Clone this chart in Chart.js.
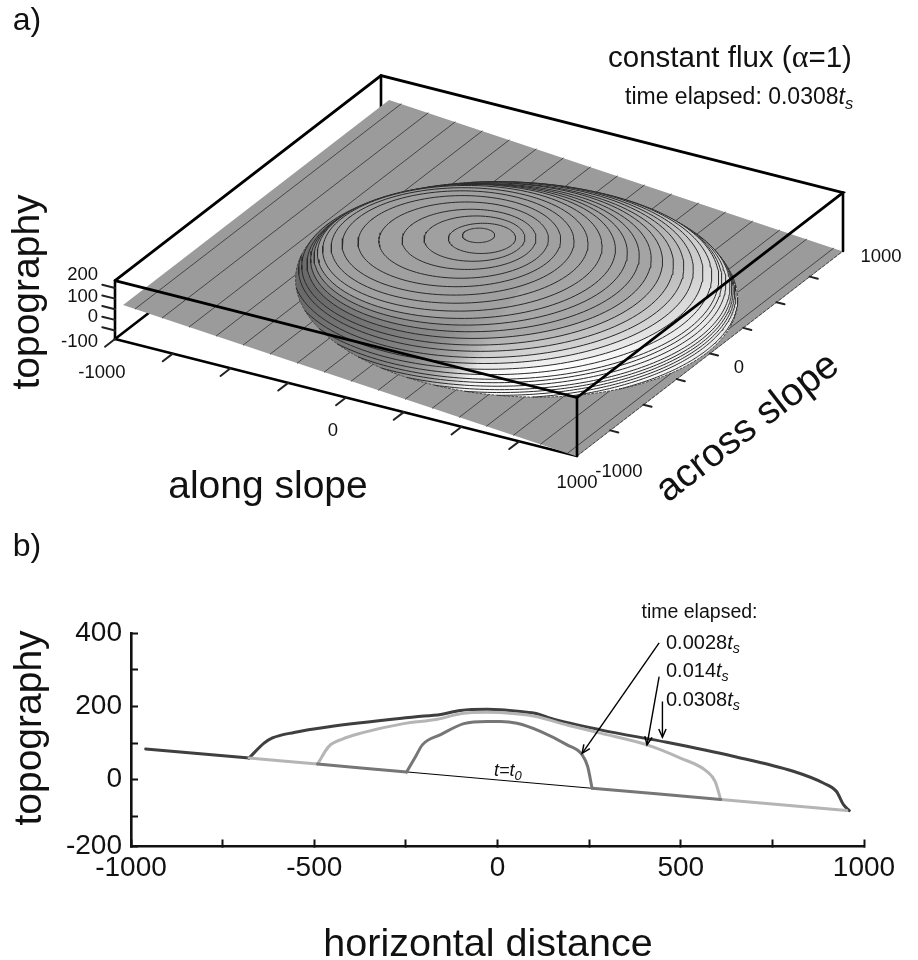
<!DOCTYPE html>
<html><head><meta charset="utf-8">
<script src="https://cdn.jsdelivr.net/npm/chart.js@4/dist/chart.umd.min.js"></script>
<style>
html,body{margin:0;padding:0;background:#fff;width:918px;height:960px;overflow:hidden}
canvas{position:absolute;left:0}
#c3d{top:0}#c2d{top:520px}
</style></head><body>
<canvas id="c3d" width="918" height="520"></canvas>
<canvas id="c2d" width="918" height="440"></canvas>
<script>
// ---------- data: panel a (3-D surface view) ----------
const alongTicks  = [-1000,-750,-500,-250,0,250,500,750];
const acrossTicks = [-750,-500,-250,0,250,500,750];
const heightTicks = [150,100,50,0,-50];
const alongRange  = [-1000,1000];
const acrossRange = [-1000,1000];
const heightRange = [-90,185];
const groundAlong  = [-965,1000];
const groundHeight = [80,-92];
const groundContours = [-913,-796,-679,-562,-445,-328,-211,-94,23,140,257,374,491,608,725,842,959];
const footprintAlong = [-660,986];
const footprintAcrossRadius = 849;
const contourLevel = [190,180,170,160,150,140,130,120,110,100,90,80,70,60,50,40,30,20,10,0,-10,-20,-30,-40,-50,-60,-70,-80];
const contourLeft  = [-62,-112,-207,-292,-382,-462,-522,-562,-592,-609,-619,-629,-640,-658,null,null,null,null,null,null,null,null,null,null,null,null,null,null];
const contourRight = [58,138,168,206,249,292,341,394,448,500,547,594,641,685,728,768,805,843,878,906,918,934,951,958,963,968,973,984];

// ---------- data: panel b (sections) ----------
const baseX = [-960,958];
const baseY = [84,-85];
const lateGroundX = [-960,-678];
const lateGroundY = [84,59];
const lateX = [-678,-637,-614,-555,-464,-228,-155,-101,-28,8,63,108,144,281,462,643,807,889,925,944,960];
const lateY = [59,100,114,129,144,171,178,189,192,191,186,180,168,136,102,64,23,-9,-32,-68,-84];
const midGroundLeftX = [-678,-491];
const midGroundLeftY = [59,43];
const midX  = [-491,-460,-423,-373,-256,-164,-101,-28,8,98,190,281,408,499,571,594,609];
const midY  = [43,91,111,127,153,165,180,184,183,174,149,127,95,59,23,-5,-54];
const midGroundRightX = [609,953];
const midGroundRightY = [-54,-84];
const earlyGroundLeftX = [-491,-248];
const earlyGroundLeftY = [43,21];
const earlyX = [-248,-223,-205,-155,-92,-28,8,53,117,190,231,246,258];
const earlyY = [21,64,95,123,153,159,159,154,132,95,68,36,-23];
const earlyGroundRightX = [258,609];
const earlyGroundRightY = [-23,-54];
const arrowFromX = [441,441,450];
const arrowFromY = [373,281,213];
const arrowToX   = [231,408,450];
const arrowToY   = [72,95,116];
const xTickValues = [-1000,-750,-500,-250,0,250,500,750,1000];
const xTickLabels = ['-1000','','-500','','0','','500','','1000'];
const yTickValues = [400,300,200,100,0,-100,-182];
const yTickLabels = ['400','','200','','0','','-200'];

// ---------- helpers ----------
const SANS = '"Liberation Sans", Arial, sans-serif';
function project(a,c,z){
  const u=(a+1000)/2000, v=(c+1000)/2000;
  return {x:115+u*462+v*266, y:339+u*117-v*205-(z-heightRange[0])*0.2125};
}
function ground(a){
  const t=(a-groundAlong[0])/(groundAlong[1]-groundAlong[0]);
  return groundHeight[0]+t*(groundHeight[1]-groundHeight[0]);
}
function groundInverse(z){
  const t=(z-groundHeight[0])/(groundHeight[1]-groundHeight[0]);
  return groundAlong[0]+t*(groundAlong[1]-groundAlong[0]);
}
const GAP={x:NaN,y:NaN};
const footC=(footprintAlong[0]+footprintAlong[1])/2, footR=(footprintAlong[1]-footprintAlong[0])/2;
const K=footprintAcrossRadius/footR;
function footprintCurve(){
  const p=[];
  for(let i=0;i<=180;i++){const t=i/180*2*Math.PI,a=footC+footR*Math.cos(t),c=footprintAcrossRadius*Math.sin(t);p.push(project(a,c,ground(a)));}
  return p;
}
function contourCurve(i){
  const L=contourLevel[i],R=contourRight[i],l=contourLeft[i];
  const p=[];
  let m,r,t0;
  if(l!==null){m=(l+R)/2;r=(R-l)/2;t0=Math.PI;}
  else{
    const as=groundInverse(L);
    const cs=footprintAcrossRadius*Math.sqrt(Math.max(0,1-((as-footC)/footR)**2))/K;
    const d=as-R;
    r=(d*d+cs*cs)/(-2*d);
    m=R-r;
    t0=Math.atan2(cs,as-m);
  }
  for(let k=0;k<=120;k++){const t=-t0+2*t0*k/120;p.push(project(m+r*Math.cos(t),K*r*Math.sin(t),L));}
  return p;
}
function seg(p,q){return [p,q,GAP];}
function grey(v){v=Math.round(v);return `rgb(${v},${v},${v})`;}
function runs(ctx,x,y,list,align){
  ctx.textBaseline='alphabetic';ctx.textAlign='left';
  let w=0;list.forEach(r=>{ctx.font=r.f;w+=ctx.measureText(r.t).width;});
  let cx=align==='right'?x-w:align==='center'?x-w/2:x;
  list.forEach(r=>{ctx.font=r.f;ctx.fillText(r.t,cx,y+(r.d||0));cx+=ctx.measureText(r.t).width;});
}
function plain(ctx,t,x,y,size,align,rot){
  ctx.save();ctx.translate(x,y);if(rot)ctx.rotate(rot);
  ctx.font=size+'px '+SANS;ctx.textAlign=align||'center';ctx.textBaseline='middle';ctx.fillText(t,0,0);ctx.restore();
}
function ts(size,val){
  return [{t:val,f:size+'px '+SANS},{t:'t',f:'italic '+size+'px '+SANS},{t:'s',f:'italic '+(size*0.72)+'px '+SANS,d:size*0.22}];
}

// ---------- panel a ----------
const ctx3=document.getElementById('c3d').getContext('2d');
const ds3=[];
function line(points,color,width,extra){ds3.push(Object.assign({data:points,showLine:true,pointRadius:0,borderColor:color,borderWidth:width,fill:false,tension:0,borderJoinStyle:'miter',borderCapStyle:'round'},extra||{}));}
function area(points,color){ds3.push({data:points.concat([points[0]]),showLine:true,pointRadius:0,borderWidth:0,borderColor:'rgba(0,0,0,0)',backgroundColor:color,fill:'shape',tension:0});}
const [a0,a1]=alongRange,[c0,c1]=acrossRange,[z0,z1]=heightRange;
line([project(a0,c0,z0),project(a0,c1,z0)],'#000',2.6);
line([project(a0,c1,z0),project(a0,c1,z1)],'#000',2.6);
line([project(a0,c0,z0),project(a1,c0,z0)],'#000',2.6);
area([project(groundAlong[0],c0,groundHeight[0]),project(groundAlong[1],c0,groundHeight[1]),project(groundAlong[1],c1,groundHeight[1]),project(groundAlong[0],c1,groundHeight[0])],'#9b9b9b');
{
  const pts=[];
  groundContours.forEach(a=>{pts.push(...seg(project(a,c0,ground(a)),project(a,c1,ground(a))));});
  line(pts,'#3c3c3c',0.9);
}
line([project(a1,c0,z0),project(a1,c1,z0)],'#444',1,{borderDash:[3,2]});
// dome shading: light towards the lower right rim, dark along the left rim
const BASE=160;
function bandFill(level){
  const sBright=level>=70?0.08:level>=10?0.08+(70-level)/60*0.92:1;
  const sDark=level>=100?0:level>=70?(100-level)/30*0.6:0.75;
  const g=ctx3.createConicGradient(0,520,290);
  const stops=[[0,225,1],[0.08,245,1],[0.2,255,1],[0.33,245,1],[0.38,165,1],[0.42,125,0],[0.5,85,0],[0.58,110,0],[0.68,148,0],[0.85,160,1],[1,225,1]];
  stops.forEach(([o,v,b])=>g.addColorStop(o,grey(BASE+(v-BASE)*(b?sBright:sDark))));
  return g;
}
area(footprintCurve(),bandFill(-100));
line(footprintCurve(),'#4a4a4a',1,{borderDash:[2,2]});
for(let i=contourLevel.length-1;i>=0;i--){
  const c=contourCurve(i);
  area(c,bandFill(contourLevel[i]));
  line(c,'#2a2a2a',1);
}
line([project(a0,c0,z1),project(a0,c1,z1),project(a1,c1,z1),project(a1,c0,z1),project(a0,c0,z1)],'#000',2.8);
line([project(a0,c0,z0),project(a0,c0,z1)],'#000',2.6);
line([project(a1,c1,z0),project(a1,c1,z1)],'#000',2.6);
line([project(a1,c0,z0),project(a1,c0,z1)],'#000',2.6);
{
  const pts=[];
  alongTicks.forEach(a=>pts.push(...seg(project(a,c0,z0),project(a,c0-75,z0))));
  acrossTicks.forEach(c=>pts.push(...seg(project(a1,c,z0),project(a1+35,c,z0))));
  heightTicks.forEach(z=>pts.push(...seg(project(a0,c0,z),project(a0-55,c0,z))));
  line(pts,'#222',2);
}
const texts3={id:'texts3',afterDatasetsDraw(ch){
  const c=ch.ctx;c.save();c.fillStyle='#111';
  plain(c,'a)',27,21,32);
  plain(c,'topography',28,292,39,'center',-Math.PI/2);
  plain(c,'along slope',268,487,39);
  plain(c,'across slope',748,428,39,'center',-37.6*Math.PI/180);
  runs(c,608,67,[{t:'constant flux (',f:'29.5px '+SANS},{t:'α',f:'32px "Liberation Serif", serif'},{t:'=1)',f:'29.5px '+SANS}]);
  runs(c,625,104,ts(23,'time elapsed: 0.0308'));
  plain(c,'200',98,275,18.5,'right');plain(c,'100',98,297,18.5,'right');plain(c,'0',98,317,18.5,'right');plain(c,'-100',98,342,18.5,'right');
  plain(c,'-1000',102,373,18.5);
  plain(c,'0',333,431,18.5);
  plain(c,'1000',577,483,18.5);
  plain(c,'-1000',619,472,18.5);
  plain(c,'0',739,368,18.5);
  plain(c,'1000',881,257,18.5);
  c.restore();
}};
ds3.forEach((d,i)=>{d.order=ds3.length-i;});
new Chart(ctx3,{type:'scatter',data:{datasets:ds3},plugins:[texts3],options:{
  responsive:false,animation:false,layout:{padding:0},
  plugins:{legend:{display:false},tooltip:{enabled:false},title:{display:false}},
  elements:{point:{radius:0}},
  scales:{x:{type:'linear',display:false,min:0,max:918},y:{type:'linear',display:false,min:0,max:520,reverse:true}}
}});

// ---------- panel b ----------
const xy=(X,Y)=>X.map((v,i)=>({x:v,y:Y[i]}));
const curve=(X,Y,color,w,order)=>({data:xy(X,Y),showLine:true,pointRadius:0,borderColor:color,borderWidth:w,cubicInterpolationMode:'monotone',order,fill:false,borderCapStyle:'round',borderJoinStyle:'round'});
const DARK='#3f3f3f',LIGHT='#b5b5b5',MID='#767676';
const arrowsDs=arrowFromX.map((_,i)=>({data:[{x:arrowFromX[i],y:arrowFromY[i]},{x:arrowToX[i],y:arrowToY[i]}],showLine:true,pointRadius:0,borderColor:'#000',borderWidth:1.4,order:0,tension:0}));
const heads={id:'heads',afterDatasetsDraw(ch){
  const c=ch.ctx,X=ch.scales.x,Y=ch.scales.y;c.save();c.strokeStyle='#000';c.lineWidth=1.5;
  arrowFromX.forEach((_,i)=>{
    const x1=X.getPixelForValue(arrowFromX[i]),y1=Y.getPixelForValue(arrowFromY[i]),x2=X.getPixelForValue(arrowToX[i]),y2=Y.getPixelForValue(arrowToY[i]);
    const t=Math.atan2(y2-y1,x2-x1),L=9,w=0.42;
    c.beginPath();c.moveTo(x2-L*Math.cos(t-w),y2-L*Math.sin(t-w));c.lineTo(x2,y2);c.lineTo(x2-L*Math.cos(t+w),y2-L*Math.sin(t+w));c.stroke();
  });
  c.fillStyle='#111';
  plain(c,'b)',27,27,32);
  plain(c,'topography',30,208,39,'center',-Math.PI/2);
  plain(c,'horizontal distance',488,425,39.5);
  plain(c,'time elapsed:',699.5,93,19.5);
  runs(c,666,129,ts(20,'0.0028'));
  runs(c,666,157,ts(20,'0.014'));
  runs(c,666,186,ts(20,'0.0308'));
  runs(c,494,256,[{t:'t=t',f:'italic 18px '+SANS},{t:'0',f:'italic 13px '+SANS,d:4}]);
  c.restore();
}};
new Chart(document.getElementById('c2d').getContext('2d'),{type:'scatter',data:{datasets:[
  curve(baseX,baseY,'#000',1,9),
  curve(lateGroundX,lateGroundY,DARK,3,8),
  curve(lateX,lateY,DARK,3,7),
  curve(midGroundLeftX,midGroundLeftY,LIGHT,3,6),
  curve(midX,midY,LIGHT,3,5),
  curve(midGroundRightX,midGroundRightY,LIGHT,3,4),
  curve(earlyGroundLeftX,earlyGroundLeftY,MID,3,3),
  curve(earlyX,earlyY,MID,3,2),
  curve(earlyGroundRightX,earlyGroundRightY,MID,3,1),
  ...arrowsDs
]},plugins:[heads],options:{
  responsive:false,animation:false,
  layout:{padding:{left:0,right:54,top:113,bottom:0}},
  plugins:{legend:{display:false},tooltip:{enabled:false}},
  scales:{
    x:{type:'linear',min:-1000,max:1000,
      afterBuildTicks(s){s.ticks=xTickValues.map(v=>({value:v}));},
      afterFit(s){s.height=113.5;},
      border:{display:true,color:'#111',width:2.6},
      grid:{display:true,drawOnChartArea:false,drawTicks:true,tickLength:-7,tickWidth:2,tickColor:'#111'},
      ticks:{autoSkip:false,maxRotation:0,minRotation:0,padding:12,color:'#111',font:{family:SANS,size:28},
        callback(v){const i=xTickValues.indexOf(v);return i<0?'':xTickLabels[i];}}
    },
    y:{type:'linear',min:-182,max:400,
      afterBuildTicks(s){s.ticks=yTickValues.map(v=>({value:v}));},
      afterFit(s){s.width=131;},
      border:{display:true,color:'#111',width:2.6},
      grid:{display:true,drawOnChartArea:false,drawTicks:true,tickLength:-7,tickWidth:2,tickColor:'#111'},
      ticks:{autoSkip:false,padding:16,color:'#111',font:{family:SANS,size:28},
        callback(v){const i=yTickValues.indexOf(v);return i<0?'':yTickLabels[i];}}
    }
  }
}});
</script>
</body></html>
